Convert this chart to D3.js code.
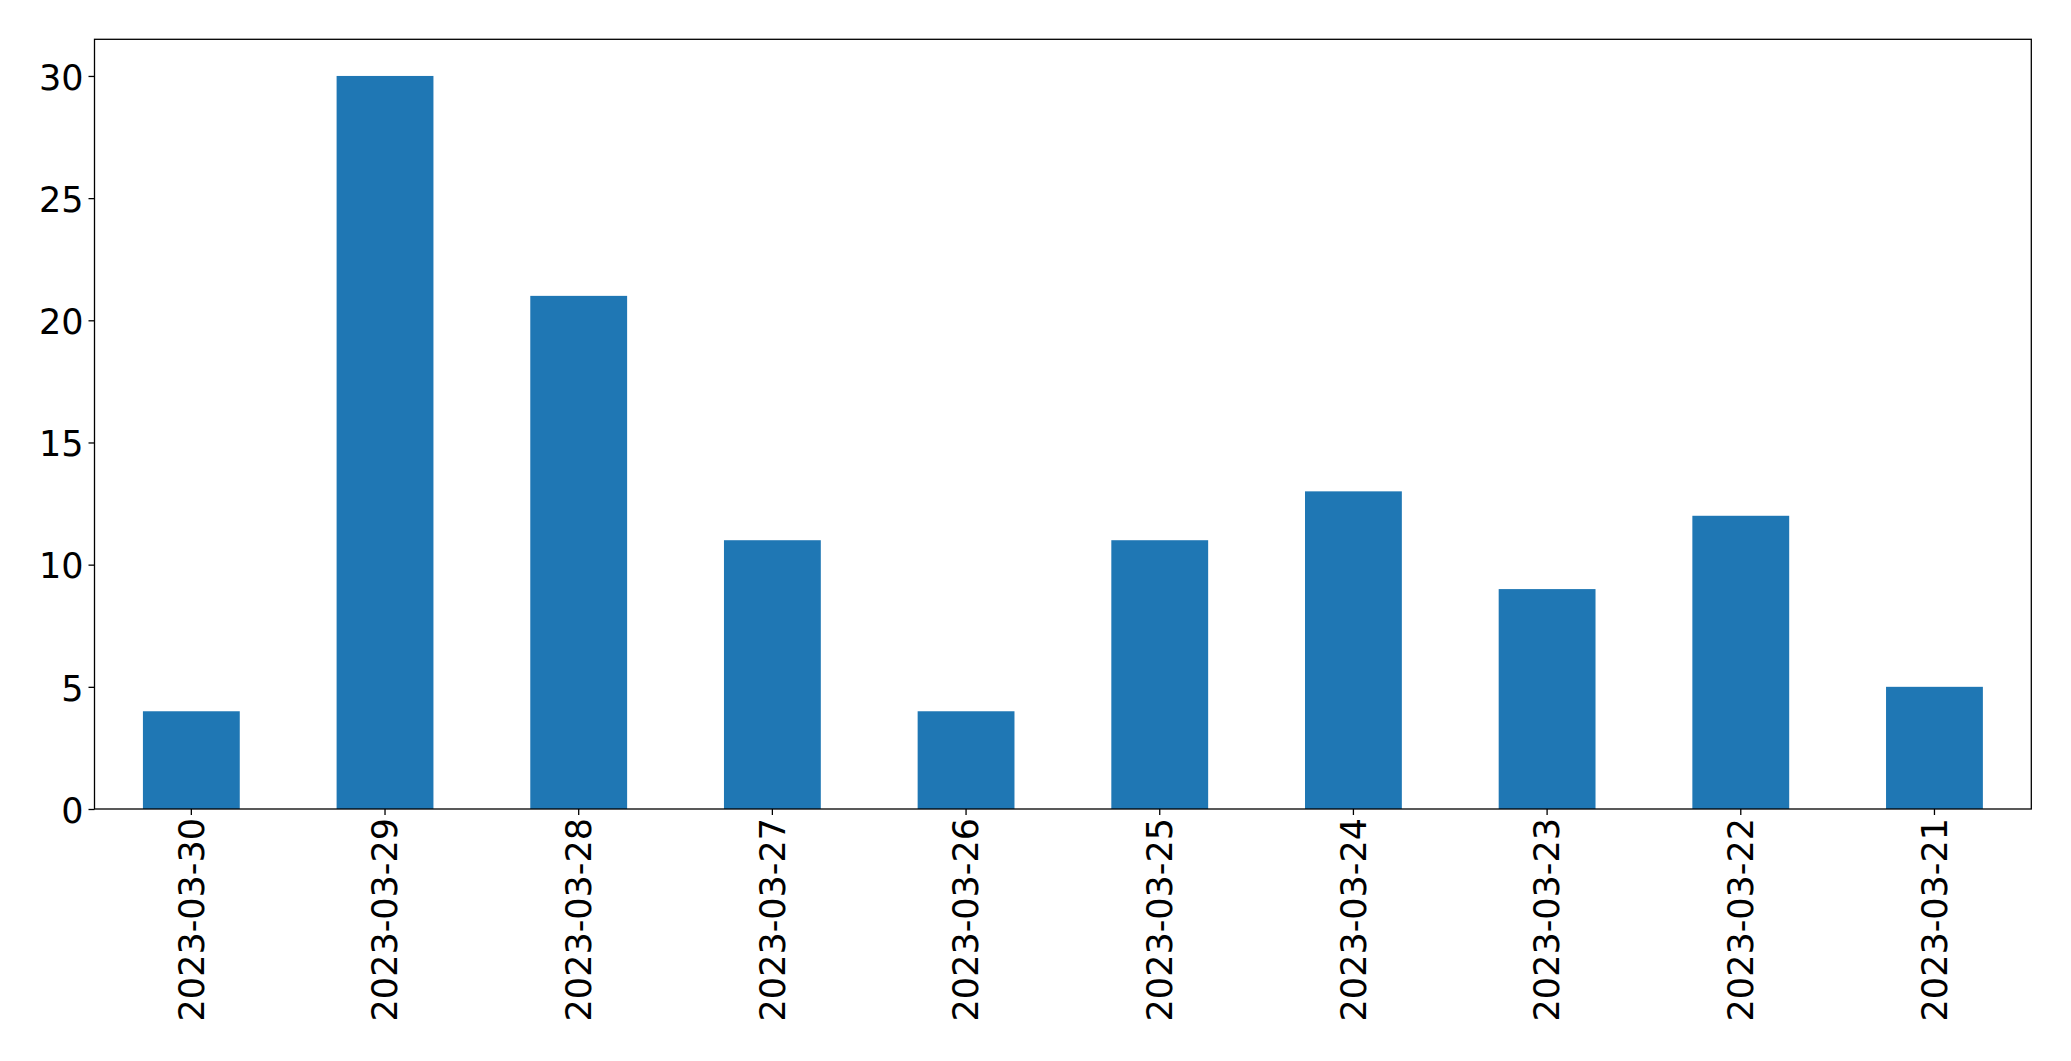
<!DOCTYPE html>
<html>
<head>
<meta charset="utf-8">
<script src="https://cdn.jsdelivr.net/npm/d3@7"></script>
<style>
html, body { margin: 0; padding: 0; background: #fff; }
svg { display: block; }
text { font-family: "DejaVu Sans", sans-serif; }
</style>
</head>
<body>
<script>
const categories = ["2023-03-30","2023-03-29","2023-03-28","2023-03-27","2023-03-26","2023-03-25","2023-03-24","2023-03-23","2023-03-22","2023-03-21"];
const values = [4, 30, 21, 11, 4, 11, 13, 9, 12, 5];
const yTicks = [0, 5, 10, 15, 20, 25, 30];

const W = 2071, H = 1061;
const margin = {left: 94.5, right: W - 2031.3, top: 39.3, bottom: H - 809};
const iw = W - margin.left - margin.right;
const ih = H - margin.top - margin.bottom;

const svg = d3.select("body").append("svg").attr("width", W).attr("height", H);
const g = svg.append("g").attr("transform", `translate(${margin.left},${margin.top})`);

const x = d3.scaleBand().domain(categories).range([0, iw]).paddingInner(0.5).paddingOuter(0.25);
const y = d3.scaleLinear().domain([0, 31.5]).range([ih, 0]);

g.selectAll("rect.bar").data(values).join("rect")
  .attr("class", "bar")
  .attr("x", (d, i) => x(categories[i]))
  .attr("width", x.bandwidth())
  .attr("y", d => y(d))
  .attr("height", d => y(0) - y(d))
  .attr("fill", "#1f77b4");

const fs = 35;
const yAxis = g.append("g").call(d3.axisLeft(y).tickValues(yTicks).tickSize(6).tickPadding(5).tickFormat(d3.format("d")));
yAxis.select(".domain").remove();
yAxis.selectAll("line").attr("stroke", "#000").attr("stroke-width", 1.3);
yAxis.selectAll("text").attr("font-size", fs).attr("fill", "#000").attr("font-family", "DejaVu Sans").attr("dy", "0.38em");

const xAxis = g.append("g").attr("transform", `translate(0,${ih})`).call(d3.axisBottom(x).tickSize(6).tickPadding(10));
xAxis.select(".domain").remove();
xAxis.selectAll("line").attr("stroke", "#000").attr("stroke-width", 1.3);
xAxis.selectAll("text")
  .attr("font-size", fs).attr("fill", "#000").attr("font-family", "DejaVu Sans")
  .attr("transform", "rotate(-90)")
  .attr("text-anchor", "end")
  .attr("dy", "0.35em")
  .attr("x", -9)
  .attr("y", 0);

g.append("rect").attr("x", 0).attr("y", 0).attr("width", iw).attr("height", ih)
  .attr("fill", "none").attr("stroke", "#000").attr("stroke-width", 1.3);
</script>
</body>
</html>
